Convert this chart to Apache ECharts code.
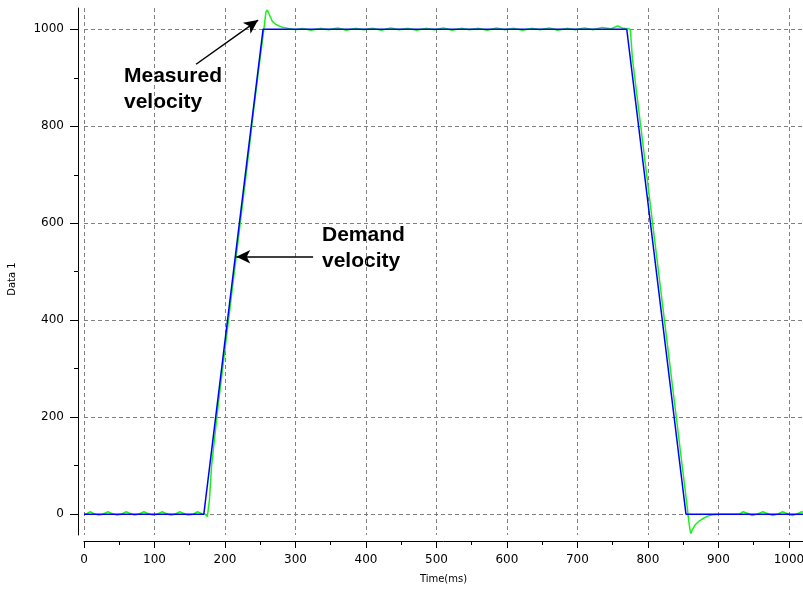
<!DOCTYPE html>
<html>
<head>
<meta charset="utf-8">
<script src="https://cdn.jsdelivr.net/npm/echarts@6/dist/echarts.min.js"></script>
<style>
  html, body { margin: 0; padding: 0; background: #fff; }
  #chart { width: 803px; height: 591px; }
</style>
</head>
<body>
<div id="chart"></div>
<script>
// demand velocity profile (blue)
const demandTime = [0, 170, 254, 770, 854, 1020];
const demandValue = [0, 0, 1000, 1000, 0, 0];

// measured velocity (green)
const measuredTime = [
  0, 4, 9, 14, 21, 27, 34, 40, 47, 53, 60, 66, 72, 79, 85, 91, 98, 104, 111, 117,
  123, 129, 136, 142, 148, 155, 161, 167, 172, 175,
  176, 178, 181, 190, 200, 210, 220, 230, 240, 248, 253, 256, 258, 260, 263, 267, 272, 280, 290, 300,
  310, 322, 335, 347, 360, 372, 385, 397, 410, 422, 435, 447, 460, 472, 485, 497, 510, 522, 535, 547,
  560, 572, 585, 597, 610, 622, 635, 647, 660, 672, 685, 697, 710, 722, 735, 747, 757, 765, 772,
  775, 778, 785, 790, 800, 810, 820, 830, 840, 848, 853, 856, 858, 860, 861, 863, 867, 872, 878, 885, 893, 902,
  930, 935, 941, 948, 955, 963, 970, 977, 984, 991, 998, 1005, 1011, 1018, 1020
];
const measuredValue = [
  0, 1, 5, 1, -2, 0, 5, 1, -2, 0, 5, 1, -2, 1, 5, 1, -2, 0, 5, 1,
  -2, 0, 5, 1, -2, 0, 5, 1, 0, -5,
  -5, 30, 100, 220, 340, 460, 580, 700, 825, 920, 975, 1010, 1035, 1040, 1030, 1017, 1010, 1005, 1002, 999,
  1002, 998, 1002, 999, 1003, 998, 1002, 999, 1002, 998, 1003, 999, 1002, 998, 1002, 999, 1003, 998, 1002, 999,
  1002, 998, 1003, 999, 1002, 998, 1002, 999, 1003, 998, 1002, 999, 1003, 999, 1004, 1001, 1007, 1002, 1001,
  1000, 940, 857, 798, 679, 560, 441, 322, 203, 107, 48, 12, -15, -35, -40, -32, -22, -15, -9, -4, -1, 0,
  0, 5, 2, -3, 0, 5, 1, -3, 0, 5, 1, -3, 0, 5, 4
];

// axis ticks
const xMajorTicks = [0, 100, 200, 300, 400, 500, 600, 700, 800, 900, 1000];
const xMinorTicks = [50, 150, 250, 350, 450, 550, 650, 750, 850, 950];
const yMajorTicks = [0, 200, 400, 600, 800, 1000];
const yMinorTicks = [100, 300, 500, 700, 900];

const chart = echarts.init(document.getElementById('chart'), null, { renderer: 'canvas' });

const font = 'DejaVu Sans';
const gridDash = { color: '#808080', width: 1, type: [4, 3] };
const plain = v => String(v);

const demandData = demandTime.map((t, i) => [t, demandValue[i]]);
const measuredData = measuredTime.map((t, i) => [t, measuredValue[i]]);

const option = {
  animation: false,
  backgroundColor: '#fff',
  grid: { left: 84, right: 0, top: 8, bottom: 56, containLabel: false, outerBoundsMode: 'none' },
  xAxis: [{
    type: 'value',
    min: 0, max: 1020,
    offset: 6,
    name: 'Time(ms)',
    nameLocation: 'middle',
    nameGap: 33,
    nameTextStyle: { fontFamily: font, fontSize: 10, color: '#000' },
    axisLine: { show: true, onZero: false, lineStyle: { color: '#000', width: 1 } },
    axisTick: { show: true, length: 7, customValues: xMajorTicks, lineStyle: { color: '#000' } },
    axisLabel: { customValues: xMajorTicks, formatter: plain, margin: 13, fontFamily: font, fontSize: 12, color: '#000' },
    splitLine: { show: true, lineStyle: gridDash }
  }, {
    type: 'value',
    min: 0, max: 1020,
    offset: 6,
    position: 'bottom',
    axisLine: { show: false, onZero: false },
    axisTick: { show: true, length: 4, customValues: xMinorTicks, lineStyle: { color: '#000' } },
    axisLabel: { show: false },
    splitLine: { show: false }
  }],
  yAxis: [{
    type: 'value',
    min: -43, max: 1044,
    offset: 6,
    axisLine: { show: true, onZero: false, lineStyle: { color: '#000', width: 1 } },
    axisTick: { show: true, length: 8, customValues: yMajorTicks, lineStyle: { color: '#000' } },
    axisLabel: { customValues: yMajorTicks, formatter: plain, margin: 14, fontFamily: font, fontSize: 12, color: '#000' },
    splitLine: { show: true, lineStyle: gridDash }
  }, {
    type: 'value',
    min: -43, max: 1044,
    offset: 6,
    position: 'left',
    axisLine: { show: false, onZero: false },
    axisTick: { show: true, length: 4, customValues: yMinorTicks, lineStyle: { color: '#000' } },
    axisLabel: { show: false },
    splitLine: { show: false }
  }],
  graphic: [{
    type: 'text',
    x: 12, y: 279,
    rotation: Math.PI / 2,
    style: { text: 'Data 1', fontFamily: font, fontSize: 10, fill: '#000', align: 'center', verticalAlign: 'middle' }
  }, {
    type: 'text',
    left: 124, top: 63,
    style: { text: 'Measured\nvelocity', fontFamily: 'Liberation Sans', fontWeight: 'bold', fontSize: 21, lineHeight: 26, fill: '#000' }
  }, {
    type: 'text',
    left: 322, top: 222,
    style: { text: 'Demand\nvelocity', fontFamily: 'Liberation Sans', fontWeight: 'bold', fontSize: 21, lineHeight: 26, fill: '#000' }
  }],
  series: [{
    name: 'Measured velocity',
    type: 'line',
    data: measuredData,
    showSymbol: false,
    lineStyle: { color: '#1cf01c', width: 1.5 },
    z: 2
  }, {
    name: 'Demand velocity',
    type: 'line',
    data: demandData,
    showSymbol: false,
    lineStyle: { color: '#0000ff', width: 1.5 },
    z: 3,
    markLine: {
      silent: true,
      symbol: ['none', 'arrow'],
      symbolSize: [10, 14],
      label: { show: false },
      lineStyle: { color: '#000', width: 1.5, type: 'solid' },
      data: [
        [{ coord: [159, 928] }, { coord: [247, 1019] }],
        [{ coord: [325, 531] }, { coord: [216, 531] }]
      ]
    }
  }]
};

chart.setOption(option);
</script>
</body>
</html>
